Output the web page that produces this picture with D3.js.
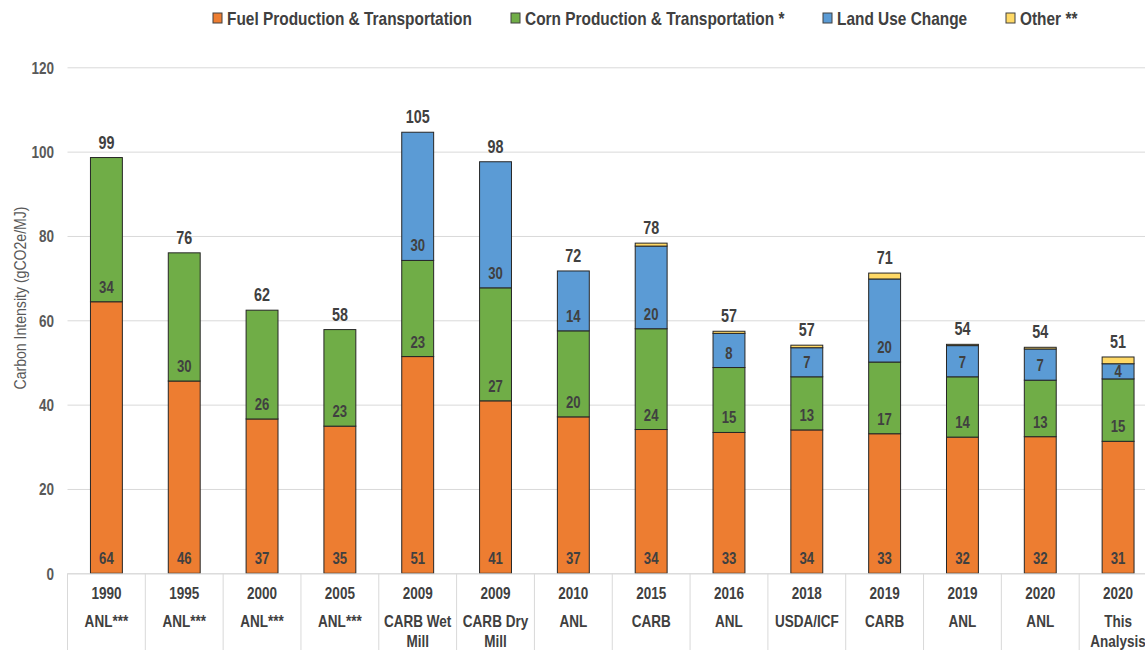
<!DOCTYPE html>
<html>
<head>
<meta charset="utf-8">
<script src="https://cdn.jsdelivr.net/npm/d3@7"></script>
<style>
  html, body { margin: 0; padding: 0; background: #ffffff; }
  svg { display: block; }
</style>
</head>
<body>
<svg id="chart" width="1145" height="650"></svg>
<script>
// Lifecycle carbon intensity of corn ethanol by study (gCO2e/MJ)
const years = ["1990", "1995", "2000", "2005", "2009", "2009", "2010", "2015", "2016", "2018", "2019", "2019", "2020", "2020"];
const sources = ["ANL***", "ANL***", "ANL***", "ANL***", "CARB Wet\nMill", "CARB Dry\nMill", "ANL", "CARB", "ANL", "USDA/ICF", "CARB", "ANL", "ANL", "This\nAnalysis"];

const fuelProduction = [64.4, 45.6, 36.6, 34.9, 51.4, 40.9, 37.1, 34.1, 33.4, 34.0, 33.1, 32.3, 32.4, 31.3];
const cornProduction = [34.2, 30.4, 25.8, 22.9, 22.8, 26.8, 20.4, 23.9, 15.4, 12.6, 17.0, 14.3, 13.4, 14.8];
const landUseChange  = [0, 0, 0, 0, 30.4, 29.9, 14.2, 19.6, 8.1, 6.9, 19.7, 7.4, 7.4, 3.6];
const otherEmissions = [0, 0, 0, 0, 0, 0, 0, 0.7, 0.5, 0.6, 1.4, 0.3, 0.4, 1.6];
const totalLabels    = [99, 76, 62, 58, 105, 98, 72, 78, 57, 57, 71, 54, 54, 51];

const seriesNames = ["Fuel Production & Transportation", "Corn Production & Transportation *", "Land Use Change", "Other **"];
const seriesColors = ["#ED7D31", "#70AD47", "#5B9BD5", "#FFD966"];
const seriesLabelled = [true, true, true, false];
const yTicks = [0, 20, 40, 60, 80, 100, 120];

// Arial-metric face, condensed horizontally to a narrow cut
const FONT = "'Liberation Sans',Arial,sans-serif";
const SX = 0.82;
const TEXT = "#404040";

const svg = d3.select("#chart");

const plot = { left: 67.5, right: 1157, top: 67.3, bottom: 573.3 };

const idx = d3.range(years.length);
const x = d3.scaleBand()
  .domain(idx)
  .range([plot.left, plot.right])
  .paddingInner(0.59)
  .paddingOuter(0.295);

const y = d3.scaleLinear().domain([0, 120]).range([plot.bottom, plot.top]);

// text placed at (px, py), condensed around its anchor
function narrowAt(sel, px, py) {
  return sel.attr("x", 0).attr("y", 0)
    .attr("transform", (d, i) => `translate(${px(d, i)},${py(d, i)}) scale(${SX},1)`);
}

// gridlines + y tick labels
const yAxis = svg.append("g")
  .attr("transform", `translate(${plot.left},0)`)
  .call(d3.axisLeft(y).tickValues(yTicks).tickSize(-(plot.right - plot.left)));
yAxis.select(".domain").remove();
yAxis.selectAll(".tick line").attr("stroke", "#d9d9d9").attr("stroke-width", 1);
yAxis.selectAll(".tick text")
  .attr("x", 0).attr("dy", "0.36em")
  .attr("transform", `translate(-13.5,0) scale(${SX},1)`)
  .attr("font-family", FONT).attr("font-size", 16.5).attr("font-weight", "bold")
  .attr("fill", "#595959");

// y axis title
svg.append("text")
  .attr("transform", `translate(26,298) rotate(-90) scale(0.88,1)`)
  .attr("text-anchor", "middle")
  .attr("font-family", FONT).attr("font-size", 16)
  .attr("fill", "#595959")
  .text("Carbon Intensity (gCO2e/MJ)");

// stacked data
const rows = idx.map(i => ({
  i,
  s0: fuelProduction[i], s1: cornProduction[i], s2: landUseChange[i], s3: otherEmissions[i]
}));
const stacked = d3.stack().keys(["s0", "s1", "s2", "s3"])(rows);

const layers = svg.append("g").selectAll("g")
  .data(stacked)
  .join("g")
  .attr("fill", (d, k) => seriesColors[k]);

layers.selectAll("rect")
  .data(d => d.filter(p => p[1] - p[0] > 0))
  .join("rect")
  .attr("x", p => x(p.data.i))
  .attr("width", x.bandwidth())
  .attr("y", p => y(p[1]))
  .attr("height", p => y(p[0]) - y(p[1]))
  .attr("stroke", "#262626")
  .attr("stroke-width", 1);

// segment value labels (inside base; centred when the segment is short)
const fmt = d3.format(".0f");
const cx = p => x(p.data.i) + x.bandwidth() / 2;
stacked.forEach((layer, k) => {
  if (!seriesLabelled[k]) return;
  svg.append("g").selectAll("text")
    .data(layer.filter(p => p[1] - p[0] > 0))
    .join("text")
    .call(narrowAt, cx, p => {
      const h = y(p[0]) - y(p[1]);
      return h < 24 ? (y(p[0]) + y(p[1])) / 2 + 5.8 : y(p[0]) - 9;
    })
    .attr("text-anchor", "middle")
    .attr("font-family", FONT).attr("font-size", 16).attr("font-weight", "bold")
    .attr("fill", TEXT)
    .text(p => fmt(p[1] - p[0]));
});

// totals above each stack
const topLayer = stacked[stacked.length - 1];
svg.append("g").selectAll("text")
  .data(topLayer)
  .join("text")
  .call(narrowAt, cx, p => y(p[1]) - 9)
  .attr("text-anchor", "middle")
  .attr("font-family", FONT).attr("font-size", 17.5).attr("font-weight", "bold")
  .attr("fill", TEXT)
  .text(p => totalLabels[p.data.i]);

// category axis: baseline, dividers and two-level labels
const xAxis = svg.append("g")
  .attr("transform", `translate(0,${plot.bottom})`)
  .call(d3.axisBottom(x).tickSize(0).tickFormat(() => ""));
xAxis.select(".domain").attr("stroke", "#d9d9d9");
xAxis.selectAll(".tick text")
  .attr("y", 0).attr("dy", null)
  .attr("transform", `scale(${SX},1)`)
  .attr("font-family", FONT).attr("font-size", 16.5).attr("font-weight", "bold")
  .attr("fill", TEXT)
  .each(function (i) {
    const t = d3.select(this);
    t.append("tspan").attr("x", 0).attr("dy", 25.7).text(years[i]);
    sources[i].split("\n").forEach((ln, j) => {
      t.append("tspan").attr("x", 0).attr("dy", j === 0 ? 28 : 20).text(ln);
    });
  });

const step = x.step();
svg.append("g").selectAll("line")
  .data(d3.range(years.length + 1))
  .join("line")
  .attr("x1", k => plot.left + k * step)
  .attr("x2", k => plot.left + k * step)
  .attr("y1", plot.bottom)
  .attr("y2", 660)
  .attr("stroke", "#d9d9d9")
  .attr("stroke-width", 1);

// legend
const legendX = [213, 511, 823, 1006];
const legend = svg.append("g").selectAll("g")
  .data(seriesNames)
  .join("g")
  .attr("transform", (d, k) => `translate(${legendX[k]},18)`);
legend.append("rect")
  .attr("x", 0).attr("y", -5).attr("width", 9).attr("height", 10)
  .attr("fill", (d, k) => seriesColors[k])
  .attr("stroke", "#404040").attr("stroke-width", 1);
legend.append("text")
  .attr("x", 0).attr("y", 0).attr("dy", "0.35em")
  .attr("transform", `translate(14,0) scale(${SX},1)`)
  .attr("font-family", FONT).attr("font-size", 18.8).attr("font-weight", "bold")
  .attr("fill", TEXT)
  .text(d => d);
</script>
</body>
</html>
